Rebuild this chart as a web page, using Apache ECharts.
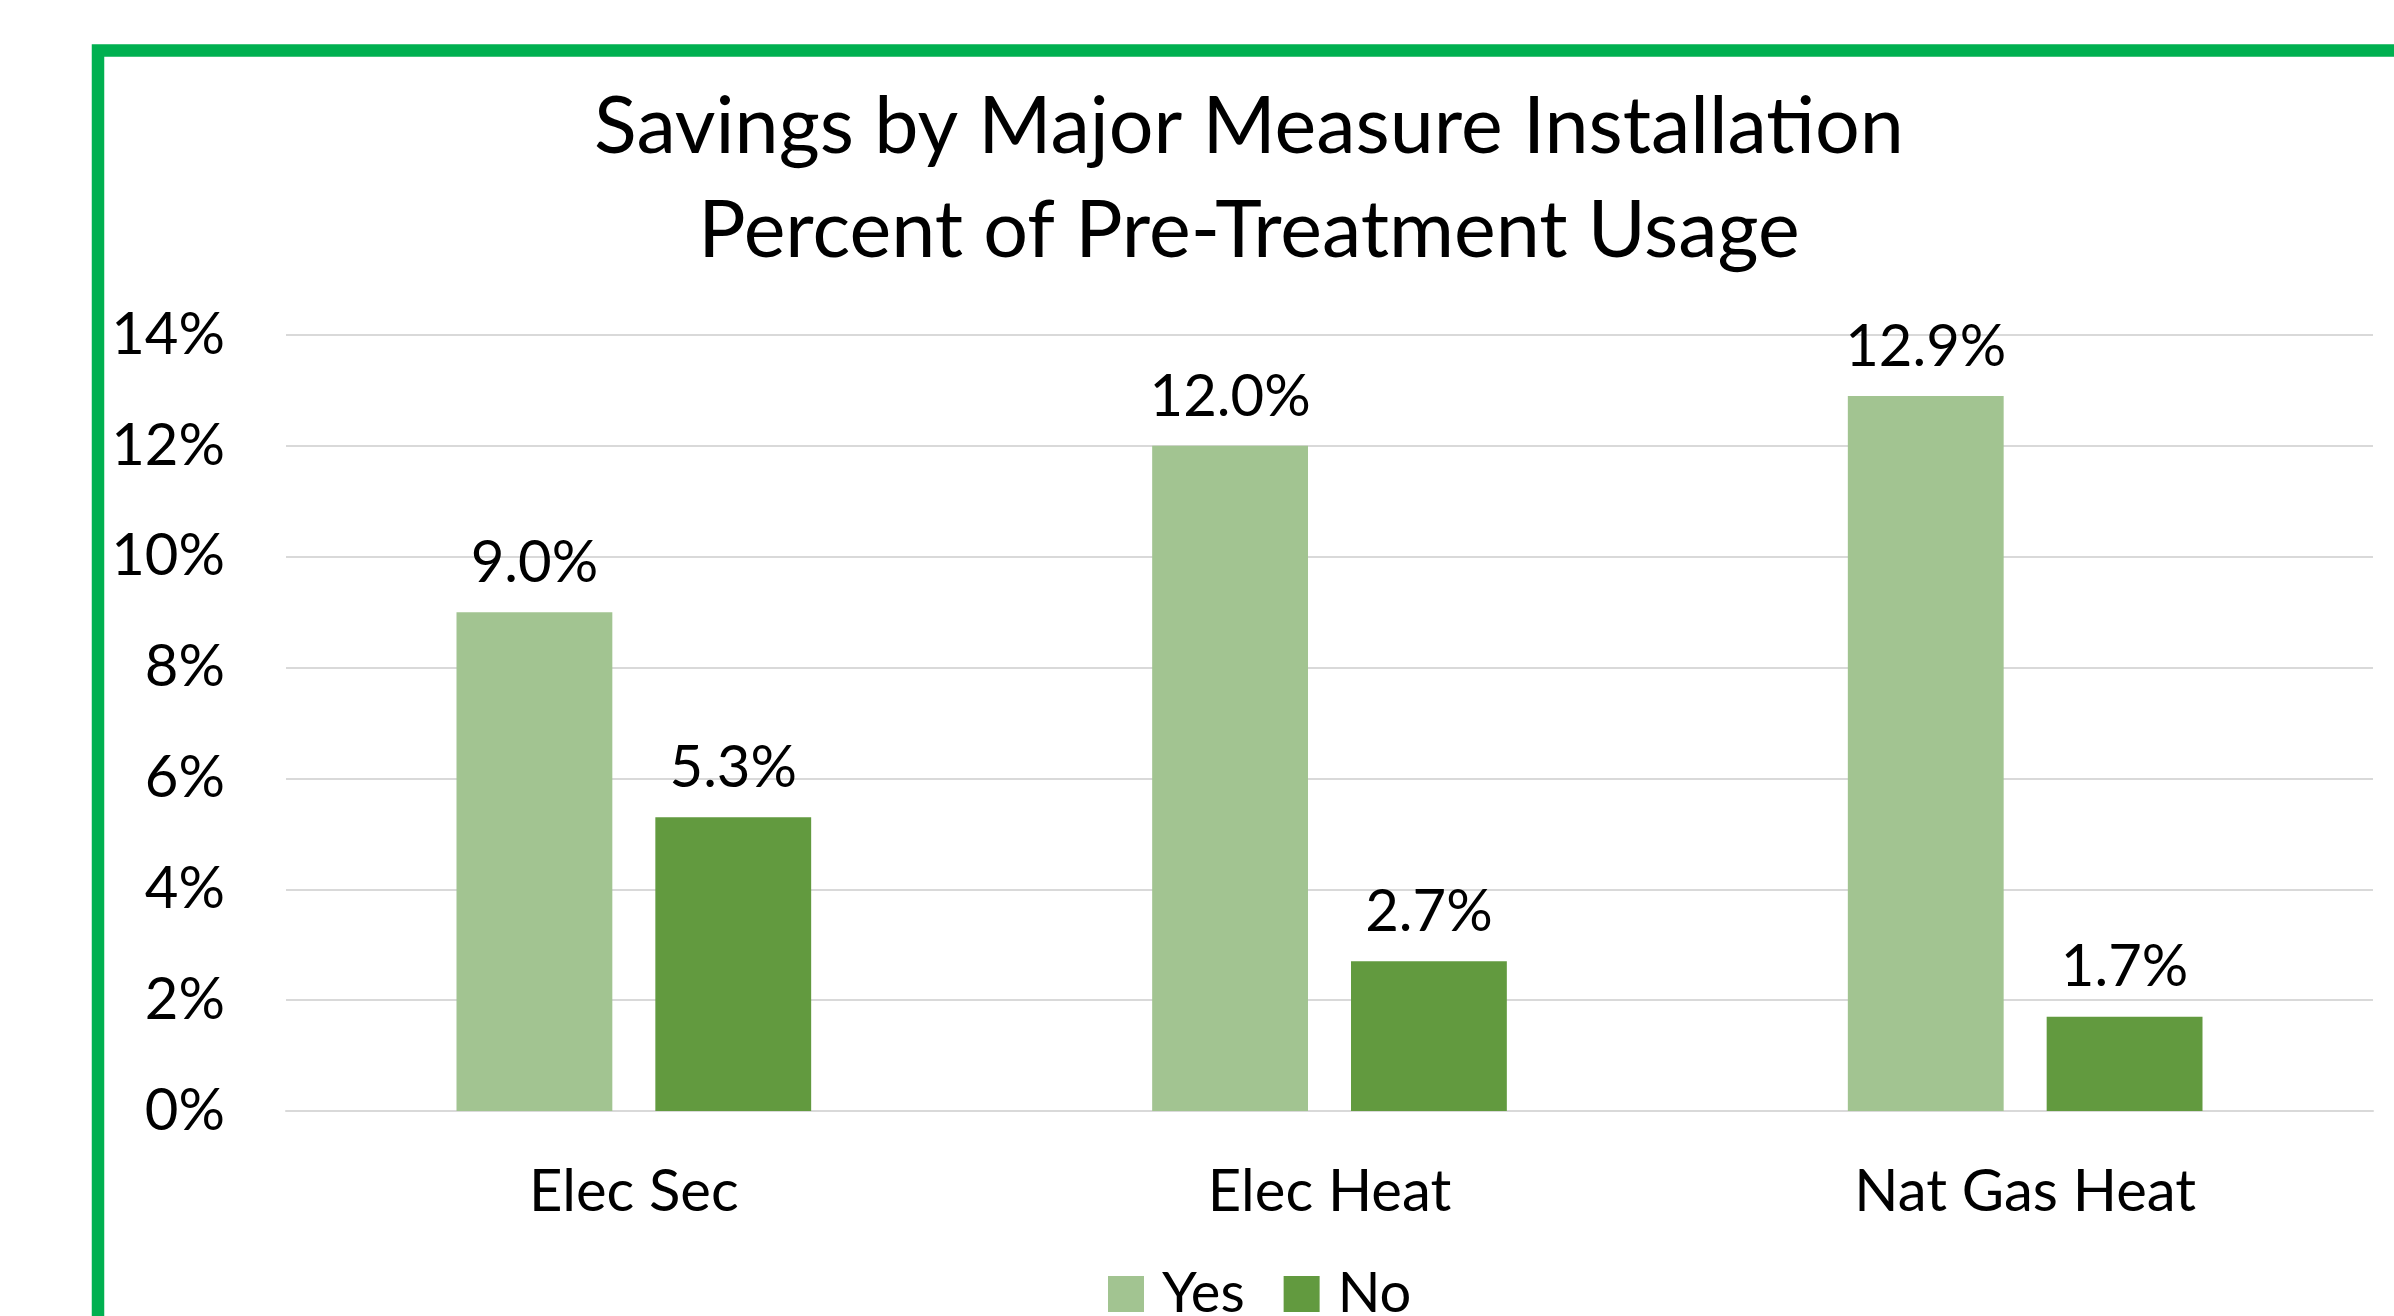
<!DOCTYPE html>
<html>
<head>
<meta charset="utf-8">
<title>Savings by Major Measure Installation</title>
<script src="https://cdn.jsdelivr.net/npm/echarts@6/dist/echarts.min.js"></script>
<style>
  html, body { margin: 0; padding: 0; background: #fff; }
  #chart { width: 2394px; height: 1316px; }
</style>
</head>
<body>
<div id="chart"></div>
<script>
// chart data
const categories = ["Elec Sec", "Elec Heat", "Nat Gas Heat"];
const seriesNames = ["Yes", "No"];
const yesValues = [9.0, 12.0, 12.9];
const noValues = [5.3, 2.7, 1.7];
const yTicks = [0, 2, 4, 6, 8, 10, 12, 14];

const font = "Lato";
const colors = ["#A2C491", "#629A3F"];

let mychart = echarts.init(document.getElementById("chart"));

const labelStyle = {
  show: true,
  position: "top",
  distance: 20,
  fontFamily: font,
  fontSize: 58,
  color: "#000",
  formatter: (p) => p.value.toFixed(1) + "%",
};

const option = {
  backgroundColor: "#fff",
  animation: false,
  title: {
    text: "Savings by Major Measure Installation\nPercent of Pre-Treatment Usage",
    left: 1249,
    top: 76,
    padding: 0,
    textAlign: "center",
    textStyle: {
      fontFamily: font,
      fontSize: 79,
      fontWeight: "normal",
      color: "#000",
      lineHeight: 104,
    },
  },
  legend: {
    data: seriesNames,
    left: 1108,
    top: 1266,
    padding: 0,
    itemWidth: 36,
    itemHeight: 36,
    itemGap: 39,
    icon: "rect",
    textStyle: {
      fontFamily: font,
      fontSize: 56,
      color: "#000",
      padding: [0, 0, 0, 13],
    },
  },
  grid: {
    left: 286,
    right: 21,
    top: 335,
    bottom: 205,
    containLabel: false,
  },
  xAxis: {
    type: "category",
    data: categories,
    axisLine: { show: true, lineStyle: { color: "#D9D9D9", width: 2 } },
    axisTick: { show: false },
    axisLabel: {
      margin: 52,
      fontFamily: font,
      fontSize: 58,
      color: "#000",
    },
  },
  yAxis: {
    type: "value",
    min: yTicks[0],
    max: yTicks[yTicks.length - 1],
    interval: 2,
    axisLine: { show: false },
    axisTick: { show: false },
    splitLine: { lineStyle: { color: "#D9D9D9", width: 2 } },
    axisLabel: {
      margin: 61,
      fontFamily: font,
      fontSize: 58,
      color: "#000",
      formatter: "{value}%",
    },
  },
  graphic: [
    {
      type: "rect",
      z: 100,
      shape: { x: 98, y: 50.5, width: 3000, height: 2000 },
      style: { fill: "none", stroke: "#00B050", lineWidth: 12.5 },
    },
  ],
  series: [
    {
      name: seriesNames[0],
      type: "bar",
      data: yesValues,
      barWidth: "22.4%",
      barGap: "27.6%",
      itemStyle: { color: colors[0] },
      label: labelStyle,
    },
    {
      name: seriesNames[1],
      type: "bar",
      data: noValues,
      barWidth: "22.4%",
      barGap: "27.6%",
      itemStyle: { color: colors[1] },
      label: labelStyle,
    },
  ],
};

mychart.setOption(option);
</script>
</body>
</html>
